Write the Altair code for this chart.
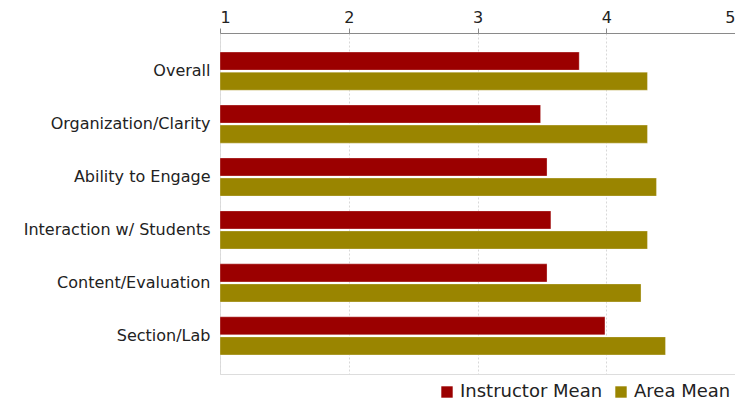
import altair as alt
import pandas as pd

categories = ["Overall", "Organization/Clarity", "Ability to Engage",
              "Interaction w/ Students", "Content/Evaluation", "Section/Lab"]
instructor_mean = [3.79, 3.49, 3.54, 3.57, 3.54, 3.99]
area_mean = [4.32, 4.32, 4.39, 4.32, 4.27, 4.46]
series = ["Instructor Mean", "Area Mean"]
colors = ["#9b0000", "#9a8500"]
x_ticks = [1, 2, 3, 4, 5]

rows = []
for c, i, a in zip(categories, instructor_mean, area_mean):
    rows.append({"Category": c, "Series": series[0], "Value": i})
    rows.append({"Category": c, "Series": series[1], "Value": a})
df = pd.DataFrame(rows)

FONT = "DejaVu Sans"

chart = alt.Chart(df).mark_bar(stroke="#ffffff", strokeWidth=0.6, strokeOpacity=0.5).encode(
    x=alt.X("Value:Q",
            scale=alt.Scale(domain=[1, 5], nice=False, zero=False),
            axis=alt.Axis(orient="top", values=x_ticks, title=None, grid=True,
                          gridDash=[2, 2], gridColor="#d8d8d8",
                          domainColor="#8a8a8a", tickColor="#8a8a8a", tickSize=5,
                          labelFont=FONT, labelFontSize=16, labelColor="#222",
                          labelPadding=3, format="d")),
    x2=alt.datum(1),
    y=alt.Y("Category:N", sort=categories,
            scale=alt.Scale(paddingInner=0.28, paddingOuter=0.36),
            axis=alt.Axis(title=None, ticks=False, domain=False, labelLimit=260,
                          labelFont=FONT, labelFontSize=16, labelColor="#222",
                          labelPadding=10)),
    yOffset=alt.YOffset("Series:N", sort=series,
                        scale=alt.Scale(paddingInner=0.1)),
    color=alt.Color("Series:N", sort=series,
                    scale=alt.Scale(domain=series, range=colors),
                    legend=alt.Legend(title=None, orient="none", direction="horizontal",
                                      legendX=218, legendY=350,
                                      symbolType="square", symbolSize=130,
                                      symbolStrokeWidth=0,
                                      labelFont=FONT, labelFontSize=18,
                                      labelColor="#222", columnPadding=9,
                                      symbolOffset=0, padding=0)),
).properties(
    width=515, height=341,
    autosize=alt.AutoSizeParams(type="none"),
    padding={"left": 212, "top": 25, "right": 0, "bottom": 30},
).configure_view(
    stroke="#a0a0a0", strokeWidth=1
).configure(background="white")

chart.save("out.html", embed_options={"renderer": "svg", "actions": False})
